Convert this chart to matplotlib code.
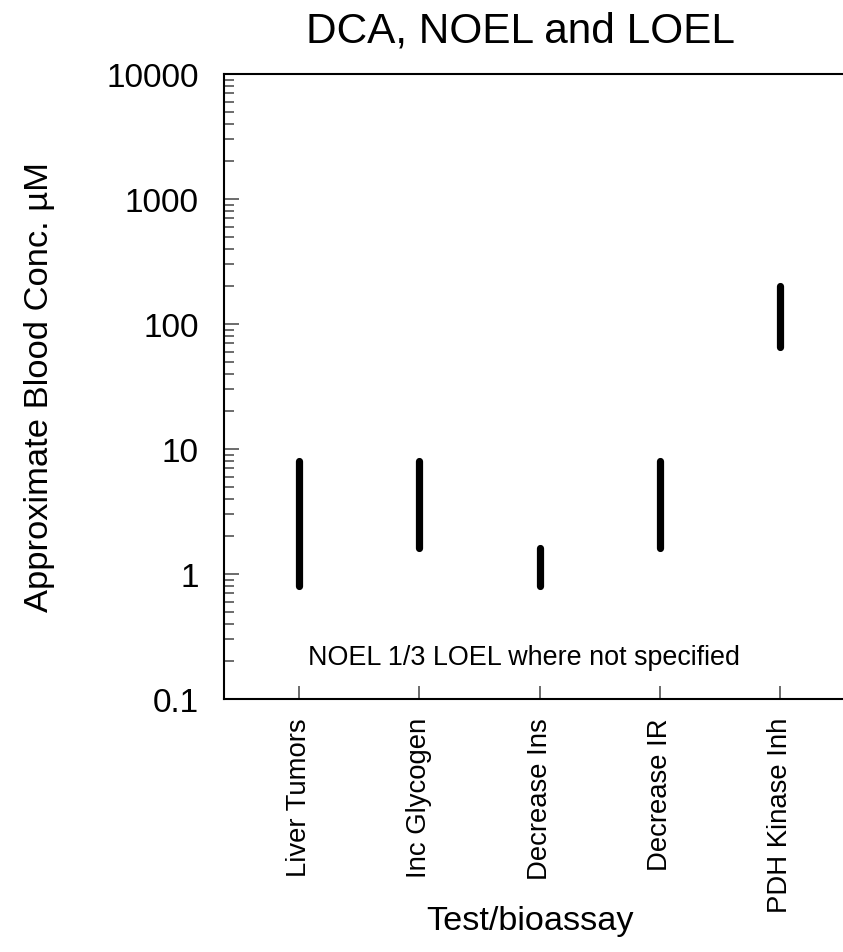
import matplotlib
matplotlib.use("Agg")
import matplotlib.pyplot as plt
from matplotlib.ticker import FixedLocator, LogLocator, NullFormatter

plt.rcParams['font.family'] = ['Liberation Sans', 'DejaVu Sans']

# Test/bioassay categories and concentration ranges (NOEL low, LOEL high), µM
categories = ["Liver Tumors", "Inc Glycogen", "Decrease Ins", "Decrease IR", "PDH Kinase Inh"]
noel = [0.8, 1.6, 0.8, 1.6, 66]
loel = [8, 8, 1.6, 8, 200]
ytick_values = [0.1, 1, 10, 100, 1000, 10000]
ytick_labels = ["0.1", "1", "10", "100", "1000", "10000"]

W, H = 843, 953
fig = plt.figure(figsize=(W / 100, H / 100), dpi=100)
ax = fig.add_axes([224 / W, 1 - 700 / H, (W - 224) / W, (700 - 75) / H])

xpos = list(range(1, len(categories) + 1))
ax.vlines(xpos, noel, loel, colors="black", linewidth=5.2, capstyle="round")

ax.set_yscale("log")
ax.set_ylim(0.1, 10000)
ax.set_xlim(0.376, 5.524)

ax.yaxis.set_major_locator(FixedLocator(ytick_values))
ax.set_yticklabels(ytick_labels)
ax.yaxis.set_minor_locator(LogLocator(base=10, subs=range(2, 10)))
ax.yaxis.set_minor_formatter(NullFormatter())

ax.set_xticks(xpos)
ax.set_xticklabels(categories, rotation=90, fontsize=19.8)

ax.tick_params(axis="y", which="major", direction="in", length=11, width=1.1,
               color="#444444", labelsize=24, pad=18.2)
ax.tick_params(axis="y", which="minor", direction="in", length=7.5, width=1.1,
               color="#444444")
ax.tick_params(axis="x", which="both", direction="in", length=9.4, width=1.1,
               color="#444444", pad=13)

for side in ("left", "bottom", "top"):
    ax.spines[side].set_linewidth(1.5)
ax.spines["right"].set_visible(False)

ax.text(2.87, 0.217, "NOEL 1/3 LOEL where not specified", fontsize=19.4,
        ha="center", va="center")

fig.text(521 / W, 1 - 43 / H, "DCA, NOEL and LOEL", fontsize=30.5,
         ha="center", va="baseline")
fig.text(40 / W, 1 - 387 / H, "Approximate Blood Conc. µM", fontsize=24.8,
         rotation=90, ha="center", va="center")
fig.text(530 / W, 1 - 922 / H, "Test/bioassay", fontsize=24.7,
         ha="center", va="center")

fig.savefig("out.png", dpi=100)
